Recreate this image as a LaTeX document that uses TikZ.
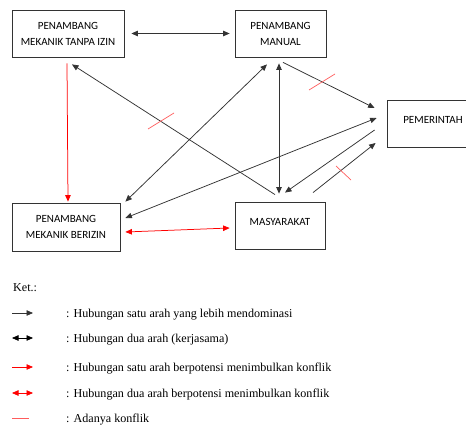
\documentclass[tikz,border=0pt]{standalone}
\usepackage{fontspec}
\setmainfont{Liberation Serif}
\newfontfamily\boxfont{Carlito}
\usetikzlibrary{arrows.meta, calc}
\definecolor{lineGray}{HTML}{333333}
\definecolor{relRed}{HTML}{ff0000}
\definecolor{markRed}{HTML}{ff5c5c}

\begin{document}
\begin{tikzpicture}[x=1pt, y=-1pt, >={Triangle[length=6.5pt, width=5.5pt]}, actor/.style={draw=lineGray, line width=0.8pt, align=center, inner sep=0pt, minimum height=47pt, font=\boxfont\fontsize{11}{16}\selectfont}, single/.style={text height=8pt, text depth=9pt}, rel/.style={draw=lineGray, line width=0.75pt}, relconf/.style={draw=relRed, line width=0.75pt}, conflictmark/.style={draw=markRed, line width=0.7pt}, ket/.style={font=\fontsize{12.1}{14}\selectfont, anchor=base west, inner sep=0pt}]
\useasboundingbox (0,0) rectangle (466,428);
% actors
\node[actor, minimum width=112pt] (tanpa) at (68,33.5) {PENAMBANG\\MEKANIK TANPA IZIN};
\node[actor, minimum width=91pt] (manual) at (280.5,33.5) {PENAMBANG\\MANUAL};
\node[actor, single, minimum width=92pt] (pemda) at (433,123.5) {PEMERINTAH};
\node[actor, minimum width=108pt, minimum height=48pt] (berizin) at (66,227) {PENAMBANG\\MEKANIK BERIZIN};
\node[actor, single, minimum width=90pt] (masy) at (280,225.5) {MASYARAKAT};
% relations
\draw[rel, <->] ([shift={(7,0)}]tanpa.east) -- ([shift={(-5,0)}]manual.west);
\draw[relconf, ->] ([shift={(-1,6)}]tanpa.south) -- ([shift={(2,-1)}]berizin.north);
\draw[rel, ->] ([shift={(-5,-7)}]masy.north) -- ([shift={(4,7)}]tanpa.south);
\draw[rel, <->] ([shift={(-13.5,7)}]manual.south) -- ([shift={(5,-1)}]berizin.north east);
\draw[rel, <->] ([shift={(-1.5,6)}]manual.south) -- ([shift={(-1,-8)}]masy.north);
\draw[rel, ->] ([shift={(2.5,5)}]manual.south) -- ([shift={(-12,-15.5)}]pemda.west);
\draw[rel, <->] ([shift={(5,-9)}]berizin.east) -- ([shift={(-10,-5.5)}]pemda.west);
\draw[rel, ->] ([shift={(-12,6.5)}]pemda.west) -- ([shift={(5,-9)}]masy.north);
\draw[rel, ->] ([shift={(33,-9)}]masy.north) -- ([shift={(-11,19.5)}]pemda.west);
\draw[relconf, <->] ([shift={(5,5)}]berizin.east) -- ([shift={(-5,2.5)}]masy.west);
% conflict marks
\draw[conflictmark] (148,129) -- (174,113);
\draw[conflictmark] (309,90) -- (335,74);
\draw[conflictmark] (336,166) -- (351,180);
% legend
\node[ket] (ket) at (13,291) {Ket.:};
\draw[rel, ->] (12,313) -- (33,313);
\node[ket] (k1) at (66,317) {: Hubungan satu arah yang lebih mendominasi};
\draw[draw=black, line width=0.75pt, <->] (12,338) -- (33,338);
\node[ket] (k2) at (66,342) {: Hubungan dua arah (kerjasama)};
\draw[relconf, ->] (12,367) -- (33,367);
\node[ket] (k3) at (66,371) {: Hubungan satu arah berpotensi menimbulkan konflik};
\draw[relconf, <->] (12,393) -- (33,393);
\node[ket] (k4) at (66,397) {: Hubungan dua arah berpotensi menimbulkan konflik};
\draw[conflictmark] (12,418) -- (29,418);
\node[ket] (k5) at (66,422) {: Adanya konflik};
\end{tikzpicture}
\end{document}
